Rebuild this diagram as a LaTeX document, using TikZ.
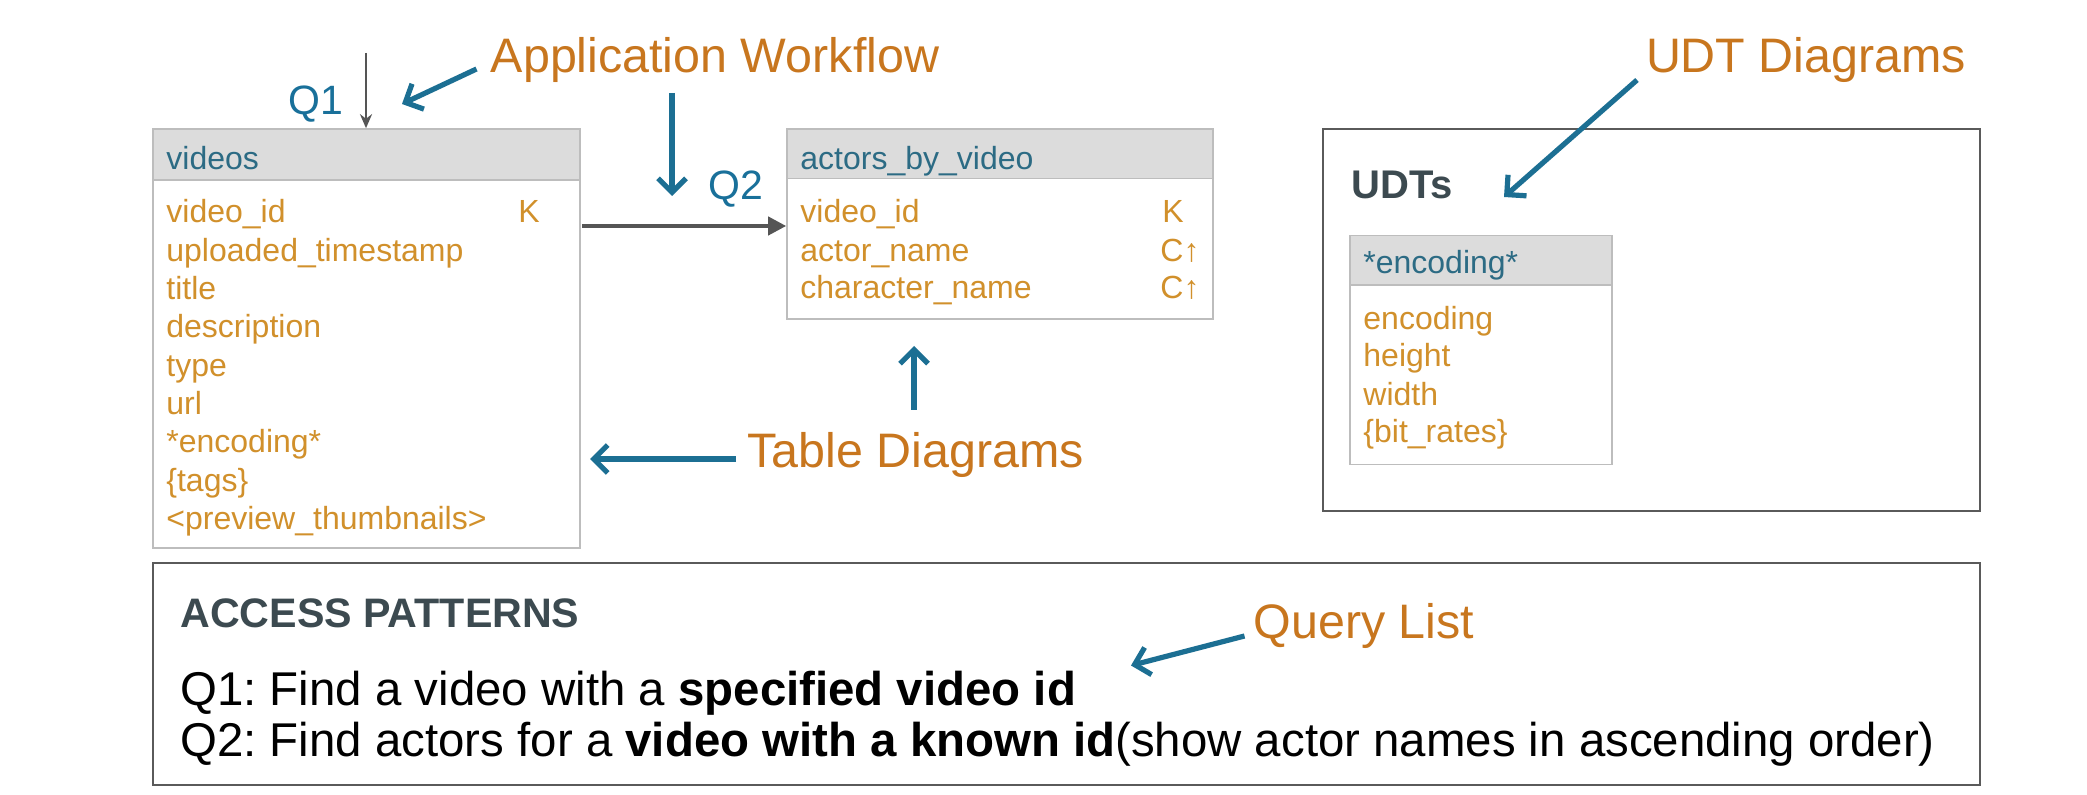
\documentclass[tikz,border=0pt]{standalone}
\usepackage{fontspec}
\setmainfont{Liberation Sans}
\usetikzlibrary{arrows.meta,fit}
\frenchspacing
\definecolor{lblorange}{HTML}{C8761E}
\definecolor{fieldc}{HTML}{D1902B}
\definecolor{headc}{HTML}{2C6B84}
\definecolor{bluearr}{HTML}{1C6F93}
\definecolor{qblue}{HTML}{19709A}
\definecolor{hdrfill}{HTML}{DCDCDC}
\definecolor{tline}{HTML}{BDBDBD}
\definecolor{boxline}{HTML}{5A5A5A}
\definecolor{greyarr}{HTML}{555555}
\definecolor{apc}{HTML}{3C4A50}
\begin{document}
\begin{tikzpicture}[x=0.5pt,y=-0.5pt,
 tbody/.style={draw=tline, line width=0.8pt, fill=white, inner sep=0pt},
 thead/.style={draw=tline, line width=0.8pt, fill=hdrfill, inner sep=0pt},
 outerbox/.style={draw=boxline, line width=1pt, inner sep=0pt},
 hdr/.style={font=\fontsize{16}{19}\selectfont, text=headc, anchor=base west, inner sep=0pt},
 fld/.style={font=\fontsize{16}{19}\selectfont, text=fieldc, anchor=base west, inner sep=0pt},
 lbl/.style={font=\fontsize{24.2}{28}\selectfont, text=lblorange, inner sep=0pt},
 qlbl/.style={font=\fontsize{20.5}{24}\selectfont, text=qblue, inner sep=0pt},
 qline/.style={font=\fontsize{23.7}{27}\selectfont, text=black, anchor=west, inner sep=0pt},
 barr/.style={draw=bluearr, line width=2.6pt, -{Straight Barb[length=7pt,width=14pt]}},
 garr/.style={draw=greyarr, line width=1.4pt, -{Stealth[length=7pt,width=6pt]}},
 garrthick/.style={draw=greyarr, line width=2pt, -{Triangle[length=9pt,width=9pt]}}
]
\useasboundingbox[fill=white] (0,0) rectangle (2087,795);

% videos table
\node[tbody, fit={(153,129)(580,548)}] (videos) {};
\node[thead, fit={(153,129)(580,180)}] (videosH) {};
\node[hdr] (vh) at (166,170) {videos};
\node[fld] (v1) at (166,223) {video\_id};
\node[fld] (vk) at (518,223) {K};
\node[fld] (v2) at (166,261.3) {uploaded\_timestamp};
\node[fld] (v3) at (166,299.6) {title};
\node[fld] (v4) at (166,337.9) {description};
\node[fld] (v5) at (166,376.2) {type};
\node[fld] (v6) at (166,414.5) {url};
\node[fld] (v7) at (166,452.8) {*encoding*};
\node[fld] (v8) at (166,491.1) {\{tags\}};
\node[fld] (v9) at (166,529.4) {<preview\_thumbnails>};

% actors_by_video table
\node[tbody, fit={(787,129)(1213,319)}] (actors) {};
\node[thead, fit={(787,129)(1213,178.5)}] (actorsH) {};
\node[hdr] (ah) at (800,170) {actors\_by\_video};
\node[fld] (a1) at (800,223) {video\_id};
\node[fld] (ak) at (1162,223) {K};
\node[fld] (a2) at (800,261.5) {actor\_name};
\node[fld] (ac2) at (1160,261.5) {C↑};
\node[fld] (a3) at (800,299) {character\_name};
\node[fld] (ac3) at (1160,299) {C↑};

% UDT box
\node[outerbox, fit={(1323,129)(1980,511)}] (udtbox) {};
\node[font=\bfseries\fontsize{20}{24}\selectfont, text=apc, anchor=west, inner sep=0pt] (udts) at (1351,185) {UDTs};
\node[tbody, fit={(1350,235.6)(1612,464.5)}] (enc) {};
\node[thead, fit={(1350,235.6)(1612,284.8)}] (encH) {};
\node[hdr] (eh) at (1363,273.5) {*encoding*};
\node[fld] (e1) at (1363,329.5) {encoding};
\node[fld] (e2) at (1363,367) {height};
\node[fld] (e3) at (1363,405.5) {width};
\node[fld] (e4) at (1363,442.5) {\{bit\_rates\}};

% Access patterns box
\node[outerbox, fit={(153,563)(1980,785)}] (access) {};
\node[font=\bfseries\fontsize{20.6}{24}\selectfont, text=apc, anchor=west, inner sep=0pt] (aptitle) at (180,613.6) {ACCESS PATTERNS};
\node[qline] (q1line) at (180,693) {Q1: Find a video with a \textbf{specified video id}};
\node[qline] (q2line) at (180,744) {Q2: Find actors for a \textbf{video with a known id}(show actor names in ascending order)};

% labels
\node[lbl] (appwf) at (715,60) {Application Workflow};
\node[lbl] (tabdiag) at (915.7,455) {Table Diagrams};
\node[lbl] (udtdiag) at (1806,60) {UDT Diagrams};
\node[lbl] (qlist) at (1364,625.6) {Query List};
\node[qlbl] (q1) at (315.5,104) {Q1};
\node[qlbl] (q2) at (736,189) {Q2};

% grey connectors
\coordinate (q1top) at (366,53);
\draw[garr] (q1top) -- (q1top |- videosH.north);
\coordinate (hstart) at (582,226);
\draw[garrthick] (hstart) -- (hstart -| actors.west);

% blue annotation arrows
\coordinate (awstart) at (476.5,69);
\coordinate (awend) at (402,104);
\draw[barr] (awstart) -- (awend);
\coordinate (dstart) at (672,93);
\coordinate (dend) at (672,196);
\draw[barr] (dstart) -- (dend);
\coordinate (tdl) at (736,459);
\coordinate (tdlend) at (590,459);
\draw[barr] (tdl) -- (tdlend);
\coordinate (tdu) at (914,410);
\coordinate (tduend) at (914,346);
\draw[barr] (tdu) -- (tduend);
\coordinate (udstart) at (1637,80);
\coordinate (udend) at (1504,197);
\draw[barr] (udstart) -- (udend);
\coordinate (qlstart) at (1244.5,636);
\coordinate (qlend) at (1131,665.5);
\draw[barr] (qlstart) -- (qlend);
\end{tikzpicture}
\end{document}
